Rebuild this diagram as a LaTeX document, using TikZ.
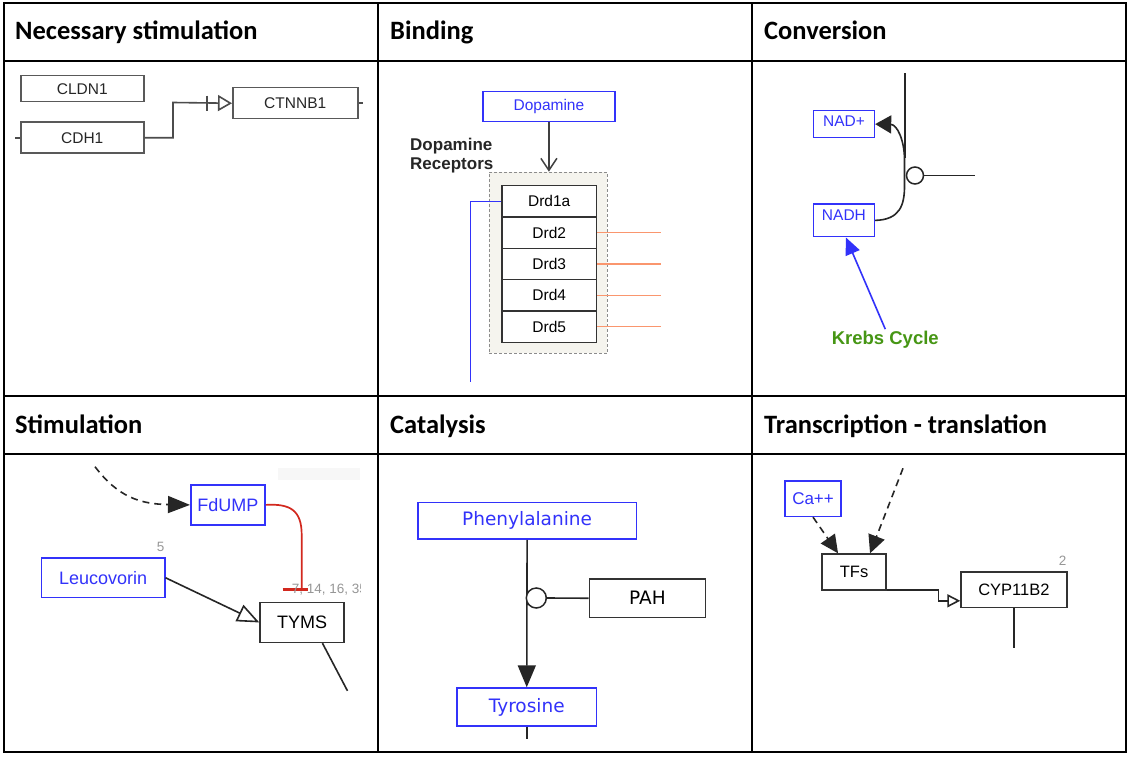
\documentclass[tikz,border=0pt]{standalone}
\usepackage{fontspec}
\setmainfont{Liberation Sans}
\newfontfamily\hdrfont{Carlito}
\newfontfamily\dvfont{DejaVu Sans}
\usetikzlibrary{arrows.meta,calc}
\definecolor{pblue}{RGB}{50,50,250}
\definecolor{kgreen}{RGB}{70,150,20}
\definecolor{orln}{RGB}{250,150,110}
\definecolor{grpfill}{RGB}{245,244,238}
\definecolor{redln}{RGB}{210,40,30}
\definecolor{numgray}{RGB}{150,150,150}
\tikzset{
  gridln/.style={line width=2pt, black},
  hdr/.style={font=\hdrfont\bfseries\fontsize{26.5}{31}\selectfont, anchor=base west, inner sep=0pt},
  boxbase/.style={draw, line width=1.5pt, inner sep=0pt, anchor=north west},
  gbox/.style={boxbase, draw=black!65, text=black!85, font=\fontsize{15.5}{18}\selectfont},
  kbox/.style={boxbase, draw=black!80, text=black},
  bbox/.style={boxbase, draw=pblue, text=pblue},
  ln/.style={line width=1.6pt, black!85},
  numlbl/.style={text=numgray, font=\fontsize{13.5}{16}\selectfont, inner sep=0pt},
  dashedln/.style={ln, dash pattern=on 7pt off 5pt},
}
\begin{document}
\begin{tikzpicture}[x=1pt,y=-1pt]
\useasboundingbox (0,0) rectangle (1136,762);
\fill[white] (0,0) rectangle (1136,762);

% ---------- table ----------
\draw[gridln] (4,3) rectangle (1126,752);
\draw[gridln] (4,61) -- (1126,61);
\draw[gridln] (4,396) -- (1126,396);
\draw[gridln] (4,454) -- (1126,454);
\draw[gridln] (377.5,3) -- (377.5,752);
\draw[gridln] (752,3) -- (752,752);

\node[hdr] (h1) at (15,39.5) {Necessary stimulation};
\node[hdr] (h2) at (390,39.5) {Binding};
\node[hdr] (h3) at (764,39.5) {Conversion};
\node[hdr] (h4) at (15,433) {Stimulation};
\node[hdr] (h5) at (390,433) {Catalysis};
\node[hdr] (h6) at (764,433) {Transcription - translation};

% ---------- panel 1 ----------
\node[gbox, minimum width=123pt, minimum height=26pt] (cldn) at (20,75) {CLDN1};
\node[gbox, minimum width=123pt, minimum height=31pt] (cdh) at (20,121.5) {CDH1};
\node[gbox, minimum width=125pt, minimum height=31pt] (ctn) at (232,87) {CTNNB1};
\draw[ln, black!70] (cdh.west) -- ++(-5,0);
\draw[ln, black!70] (ctn.east) -- ++(4,0);
\draw[ln, black!70, -{Triangle[open,length=14pt,width=16pt]}]
  (cdh.east) -| (173,102.5) -- (ctn.west);
\draw[ln, black!70] ([xshift=-25pt,yshift=7.5pt]ctn.west) -- ([xshift=-25pt,yshift=-7.5pt]ctn.west);

% ---------- panel 2 ----------
\node[bbox, minimum width=131.7pt, minimum height=30.3pt, font=\fontsize{15.5}{18}\selectfont] (dop) at (482.3,90.7) {Dopamine};
\node[draw=black!45, dash pattern=on 3pt off 2pt, fill=grpfill, line width=0.9pt,
      minimum width=118.3pt, minimum height=181.3pt, inner sep=0pt, anchor=north west] (grp) at (488.7,171.7) {};
\foreach \i/\t [count=\k from 0] in {d1/Drd1a,d2/Drd2,d3/Drd3,d4/Drd4,d5/Drd5}{
  \node[kbox, fill=white, minimum width=94.4pt, minimum height=31.33pt, font=\fontsize{15.5}{18}\selectfont]
    (\i) at (501.3,185+31.33*\k) {\t};
}
\draw[ln, black!75, -{Straight Barb[length=12pt,width=16pt,line width=1.5pt]}] (dop.south) -- (dop.south |- grp.north);
\node[font=\bfseries\fontsize{17}{19.5}\selectfont, align=left, anchor=north west, inner sep=0pt, text=black!85]
  (drlbl) at (410,137.5) {Dopamine\\Receptors};
\draw[pblue, line width=1.6pt] (d1.west) -| (470.3,381.7);
\foreach \i in {d2,d3,d4,d5}{
  \draw[orln, line width=1.5pt] (\i.east) -- ++(64,0);
}

% ---------- panel 3 ----------
\node[bbox, minimum width=61pt, minimum height=26.7pt, font=\fontsize{15.5}{18}\selectfont] (nadp) at (812.7,110) {\raisebox{6pt}{NAD+}};
\node[bbox, minimum width=61pt, minimum height=32.7pt, font=\fontsize{15.5}{18}\selectfont] (nadh) at (812.7,203.3) {\raisebox{10pt}{NADH}};
\coordinate (vt) at (905,73.3);
\coordinate (vb) at (905,158.3);
\draw[ln] (vt) -- (vb);
\draw[ln, -{Triangle[length=16pt,width=18pt]}]
  (nadh.east) .. controls (900,219.7) and (904.5,205) .. (904.5,186)
  -- (904.5,160) .. controls (904.5,140) and (897,124.5) .. (nadp.east);
\node[circle, draw=black!85, line width=1.5pt, fill=white, minimum size=17pt, inner sep=0pt] (c3) at (915,175.5) {};
\draw[ln] (c3.east) -- ++(51,0);
\node[text=kgreen, font=\bfseries\fontsize{18.5}{22}\selectfont, inner sep=0pt] (krebs) at (885.3,340) {Krebs Cycle};
\draw[pblue, line width=1.6pt, -{Triangle[length=17pt,width=15pt]}] ([yshift=2pt]krebs.north) -- ([xshift=2pt]nadh.south);

% ---------- panel 4 ----------
\fill[black!3] (278,468) rectangle (360,480);
\node[bbox, minimum width=74.3pt, minimum height=39.7pt, font=\fontsize{18}{21}\selectfont] (fd) at (190,484.3) {FdUMP};
\coordinate (ds4) at (95,466.7);
\draw[dashedln, -{Triangle[length=22pt,width=17pt]}] (ds4) .. controls (118,497) and (140,504.1) .. (fd.west);
\node[bbox, minimum width=123.3pt, minimum height=39.4pt, font=\fontsize{18}{21}\selectfont] (leu) at (40.7,557.3) {Leucovorin};
\node[numlbl] (n5) at (160.7,546.7) {5};
\node[kbox, minimum width=84pt, minimum height=40pt, font=\fontsize{18}{21}\selectfont] (tyms) at (259.3,601.7) {TYMS};
\coordinate (rb) at (301.7,589.3);
\draw[redln, line width=1.7pt] (fd.east) .. controls (290,503.5) and (301.7,510) .. (301.7,535) -- (rb);
\draw[redln, line width=3pt] ([xshift=-19pt]rb) -- ([xshift=6.6pt]rb);
\begin{scope}
  \clip (250,570) rectangle (360,610);
  \node[numlbl, anchor=west] (refs) at (291.7,589.5) {7, 14, 16, 35};
\end{scope}
\draw[ln, -{Triangle[open,length=22pt,width=18pt]}] (leu.east) -- (tyms.west);
\draw[ln] ([xshift=20.4pt]tyms.south) -- ++(25,47.6);

% ---------- panel 5 ----------
\node[bbox, minimum width=218.7pt, minimum height=36.6pt, font=\dvfont\fontsize{18.5}{22}\selectfont] (phe) at (417,501.7) {Phenylalanine};
\node[bbox, minimum width=139.4pt, minimum height=37.7pt, font=\dvfont\fontsize{18.5}{22}\selectfont] (tyr) at (456.3,687.3) {Tyrosine};
\draw[ln, -{Triangle[length=22pt,width=18pt]}] (phe.south) -- (tyr.north);
\node[kbox, minimum width=116pt, minimum height=38.4pt, font=\dvfont\fontsize{18.5}{22}\selectfont] (pah) at (588.7,578.3) {PAH};
\node[circle, draw=black!85, line width=1.5pt, fill=white, minimum size=20pt, inner sep=0pt] (c5) at (536.3,598) {};
\draw[ln] (c5.east) -- (pah.west);
\draw[ln] (tyr.south) -- ++(0,12.3);

% ---------- panel 6 ----------
\node[bbox, minimum width=56pt, minimum height=35.7pt, font=\fontsize{17}{20}\selectfont] (ca) at (784.3,480) {Ca++};
\node[kbox, minimum width=64pt, minimum height=36pt, font=\fontsize{16.5}{20}\selectfont] (tfs) at (821.3,553.3) {TFs};
\coordinate (t6) at (903,468.3);
\draw[dashedln, -{Triangle[length=18pt,width=17pt]}] (ca.south) -- ([xshift=-16pt]tfs.north);
\draw[dashedln, -{Triangle[length=18pt,width=17pt]}] (t6) -- ([xshift=16pt]tfs.north);
\node[kbox, minimum width=105.7pt, minimum height=35.7pt, font=\fontsize{16.5}{20}\selectfont] (cyp) at (960.3,571) {CYP11B2};
\node[numlbl] (n2) at (1062.7,560.7) {2};
\draw[ln, -{Triangle[open,length=13pt,width=13pt]}]
  ([yshift=1pt]tfs.south east) -| ([xshift=-22pt,yshift=-11.2pt]cyp.west) -- ([yshift=-11.2pt]cyp.west);
\draw[ln] (cyp.south) -- ++(0,40);
\end{tikzpicture}
\end{document}
